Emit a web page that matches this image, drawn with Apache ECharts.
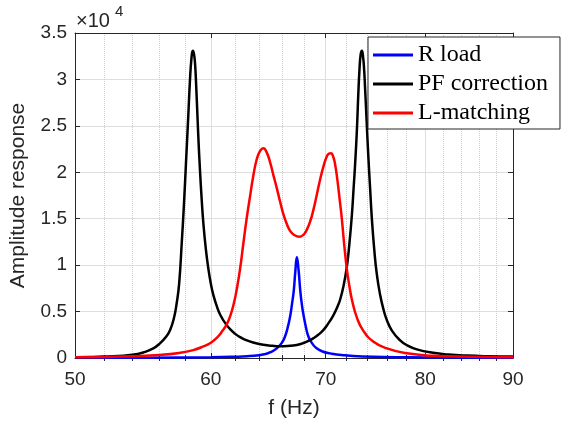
<!DOCTYPE html>
<html>
<head>
<meta charset="utf-8">
<script src="https://cdn.jsdelivr.net/npm/echarts@6/dist/echarts.min.js"></script>
<style>
  html, body { margin: 0; padding: 0; background: #fff; }
  #chart { width: 563px; height: 426px; }
</style>
</head>
<body>
<div id="chart"></div>
<script>
// frequency (Hz) / amplitude readings, one pair of arrays per curve
const rLoadFreq = [50, 55, 60, 62, 63, 64, 64.5, 65, 65.55, 66, 66.27, 66.5, 66.73, 66.9, 67.06, 67.2, 67.34,
  67.5, 67.65, 67.8, 67.95, 68.15, 68.4, 68.75, 69.15, 69.7, 70.42, 71.5, 73.5, 77, 80, 85, 90];
const rLoadAmp = [20, 40, 90, 140, 190, 300, 420, 620, 1040, 1650, 2290, 3200, 4440, 5800, 7240, 9300, 10850,
  9400, 7240, 5700, 4600, 3400, 2290, 1550, 1040, 700, 500, 320, 160, 90, 60, 40, 30];

const pfFreq = [50, 51, 52, 53, 54, 54.8, 55.5, 56.04, 56.5, 56.8, 57.1, 57.31, 57.5, 57.7, 57.87, 58.03, 58.2,
  58.34, 58.46, 58.56, 58.65, 58.74, 58.83, 58.92, 59.02, 59.13, 59.26, 59.4, 59.6, 59.8, 60, 60.2, 60.5, 60.8,
  61.2, 61.57, 62, 62.4, 62.9, 63.5, 64.38, 65.2, 65.84, 66.5, 67.33, 68, 68.54, 68.84, 69.3, 69.77, 70.2, 70.72,
  71.1, 71.37, 71.7, 72.01, 72.25, 72.5, 72.68, 72.82, 72.99, 73.12, 73.24, 73.36, 73.48, 73.6, 73.7, 73.79,
  73.95, 74.12, 74.3, 74.46, 74.7, 74.97, 75.3, 75.65, 75.98, 76.5, 77.35, 78.1, 79.1, 80.85, 82.5, 84.6, 87, 90];
const pfAmp = [90, 110, 150, 220, 340, 600, 1000, 1580, 2300, 3000, 4300, 5890, 8000, 12380, 16500, 21000, 25800,
  29900, 32300, 33100, 32800, 31700, 29300, 26400, 23200, 20250, 17200, 14500, 11700, 9600, 8000, 6800, 5500, 4550,
  3700, 3100, 2600, 2250, 1930, 1670, 1430, 1310, 1270, 1300, 1410, 1640, 1920, 2120, 2500, 3000, 3650, 4600,
  5500, 6300, 7800, 9800, 12200, 15400, 18500, 20960, 24550, 28200, 31000, 32700, 33100, 32400, 31100, 29200,
  25500, 21700, 18200, 15170, 11800, 9000, 6800, 5200, 4100, 2950, 1900, 1350, 930, 560, 380, 260, 190, 150];

const lmFreq = [50, 52, 54, 56, 57.5, 58.6, 59.4, 60, 60.5, 60.9, 61.3, 61.6, 61.9, 62.12, 62.4, 62.67, 62.95,
  63.24, 63.5, 63.81, 64.1, 64.38, 64.65, 64.96, 65.25, 65.55, 65.85, 66.13, 66.45, 66.73, 67.1, 67.6, 68, 68.24,
  68.55, 68.84, 69.15, 69.47, 69.8, 70.1, 70.3, 70.51, 70.7, 70.88, 71.1, 71.37, 71.52, 71.75, 72.01, 72.25, 72.5,
  72.99, 73.61, 74.64, 75.98, 78.05, 80.85, 85, 90];
const lmAmp = [80, 120, 190, 320, 540, 850, 1250, 1650, 2200, 2850, 3650, 4600, 6000, 7400, 9600, 12300, 15000,
  17400, 19500, 21400, 22300, 22600, 22200, 21100, 19700, 18300, 16800, 15500, 14400, 13700, 13250, 13060, 13350, 13800,
  14700, 15900, 17500, 19200, 20700, 21700, 22000, 22050, 21700, 20900, 19200, 16600, 15100, 12300, 9600, 7800, 6300,
  4350, 2950, 1760, 1040, 500, 240, 130, 80];

const majorTicks = [50, 60, 70, 80, 90];
const minorTicks = [52, 54, 56, 58, 62, 64, 66, 68, 72, 74, 76, 78, 82, 84, 86, 88];
const seriesNames = ['R load', 'PF correction', 'L-matching'];

const axisColor = '#262626';
const sans = 'Liberation Sans, Arial, Helvetica, sans-serif';

function pairs(xs, ys) {
  return xs.map((x, i) => [x, ys[i]]);
}

function logAxis(position, ticks, opts) {
  return Object.assign({
    type: 'log',
    logBase: 10,
    min: 50,
    max: 90,
    position,
    axisLine: { show: false },
    axisTick: { show: true, inside: true, length: 5, customValues: ticks, lineStyle: { color: axisColor } },
    axisLabel: { show: false },
    splitLine: { show: false },
  }, opts);
}

const chart = echarts.init(document.getElementById('chart'), null, { renderer: 'canvas' });

chart.setOption({
  animation: false,
  backgroundColor: '#fff',
  grid: { left: 75, right: 50, top: 33, bottom: 68 },
  graphic: [
    { type: 'text', left: 76, top: 11, style: { text: '×10', font: '20px ' + sans, fill: axisColor } },
    { type: 'text', left: 115, top: 4, style: { text: '4', font: '15px ' + sans, fill: axisColor } },
  ],
  legend: {
    orient: 'vertical',
    left: 368,
    top: 37,
    data: seriesNames,
    icon: 'rect',
    itemWidth: 40,
    itemHeight: 3,
    itemGap: 5,
    padding: [6, 12, 4, 5],
    selectedMode: false,
    backgroundColor: '#fff',
    borderColor: axisColor,
    borderWidth: 1,
    textStyle: { fontFamily: 'Liberation Serif, serif', fontSize: 24, color: '#000' },
  },
  xAxis: [
    logAxis('bottom', majorTicks, {
      axisLine: { show: true, onZero: false, lineStyle: { color: axisColor } },
      axisLabel: { show: true, customValues: majorTicks, fontSize: 19, fontFamily: sans, color: axisColor, margin: 12 },
      splitLine: { show: true, lineStyle: { color: '#dedede' } },
      name: 'f (Hz)',
      nameLocation: 'middle',
      nameGap: 40,
      nameTextStyle: { fontSize: 21, fontFamily: sans, color: axisColor },
    }),
    logAxis('bottom', minorTicks, {
      axisTick: { show: true, inside: true, length: 3, customValues: minorTicks, lineStyle: { color: axisColor } },
      splitLine: { show: true, lineStyle: { color: '#cfcfcf', type: 'dotted' } },
    }),
    logAxis('top', majorTicks, {
      axisLine: { show: true, onZero: false, lineStyle: { color: axisColor } },
    }),
    logAxis('top', minorTicks, {
      axisTick: { show: true, inside: true, length: 3, customValues: minorTicks, lineStyle: { color: axisColor } },
    }),
  ],
  yAxis: [
    {
      type: 'value',
      min: 0,
      max: 35000,
      interval: 5000,
      position: 'left',
      axisLine: { show: true, onZero: false, lineStyle: { color: axisColor } },
      axisTick: { show: true, inside: true, length: 5, lineStyle: { color: axisColor } },
      axisLabel: {
        fontSize: 19, fontFamily: sans, color: axisColor, margin: 8,
        formatter: (v) => String(v / 10000),
      },
      splitLine: { show: true, lineStyle: { color: '#dedede' } },
      name: 'Amplitude response',
      nameLocation: 'middle',
      nameGap: 46,
      nameTextStyle: { fontSize: 21, fontFamily: sans, color: axisColor },
    },
    {
      type: 'value',
      min: 0,
      max: 35000,
      interval: 5000,
      position: 'right',
      axisLine: { show: true, onZero: false, lineStyle: { color: axisColor } },
      axisTick: { show: true, inside: true, length: 5, lineStyle: { color: axisColor } },
      axisLabel: { show: false },
      splitLine: { show: false },
    },
  ],
  series: [
    { name: seriesNames[0], data: pairs(rLoadFreq, rLoadAmp), color: '#0000ff' },
    { name: seriesNames[1], data: pairs(pfFreq, pfAmp), color: '#000000' },
    { name: seriesNames[2], data: pairs(lmFreq, lmAmp), color: '#ff0000' },
  ].map((s) => Object.assign({
    type: 'line',
    xAxisIndex: 0,
    yAxisIndex: 0,
    showSymbol: false,
    smooth: 0.5,
    lineStyle: { width: 2.5 },
  }, s)),
});
</script>
</body>
</html>
